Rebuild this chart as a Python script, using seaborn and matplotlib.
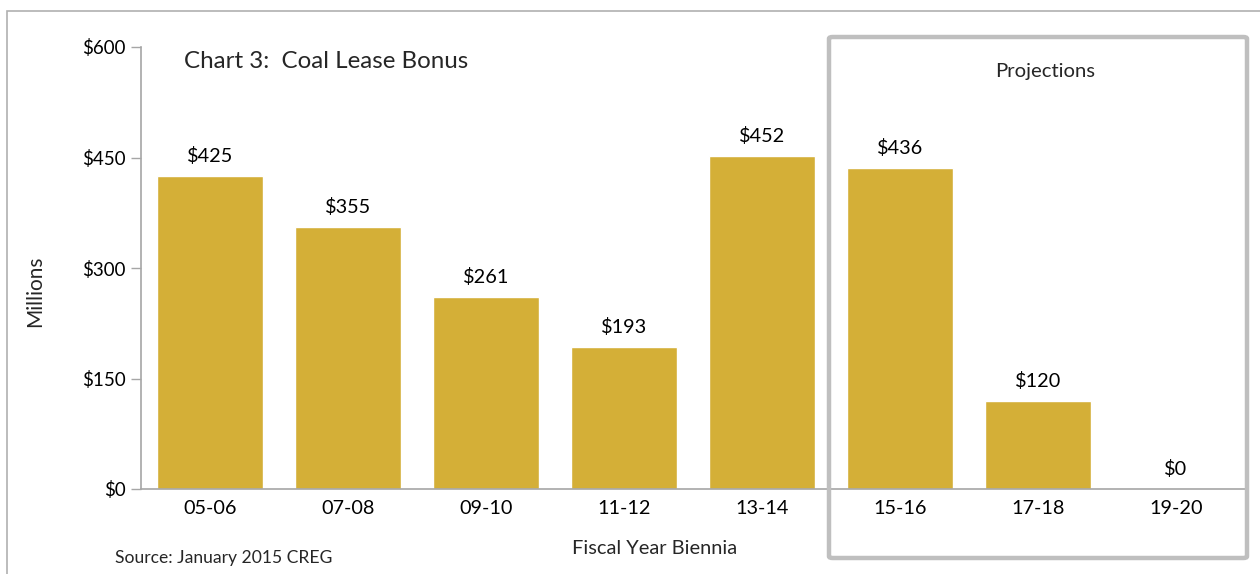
import matplotlib
matplotlib.use("Agg")
import matplotlib.pyplot as plt
import seaborn as sns
import pandas as pd
from matplotlib.patches import Rectangle, FancyBboxPatch

categories = ["05-06", "07-08", "09-10", "11-12", "13-14", "15-16", "17-18", "19-20"]
values = [425, 355, 261, 193, 452, 436, 120, 0]
y_ticks = [0, 150, 300, 450, 600]
y_tick_labels = ["$0", "$150", "$300", "$450", "$600"]

df = pd.DataFrame({"Biennium": categories, "Value": values})

sns.set_theme(style="white")
plt.rcParams["font.family"] = ["Lato", "DejaVu Sans"]

fig = plt.figure(figsize=(12.6, 5.74), dpi=100)
ax = fig.add_axes([141/1260, 1-489/574, (1245-141)/1260, (489-47)/574])

bar_color = "#D4AF37"
sns.barplot(data=df, x="Biennium", y="Value", color=bar_color, width=0.77,
            saturation=1, ax=ax)

ax.set_ylim(0, 600)
ax.set_xlim(-0.5, len(categories) - 0.5)
ax.set_yticks(y_ticks)
ax.set_yticklabels(y_tick_labels, fontsize=13.5)
ax.tick_params(axis="y", length=7, width=1, color="#a6a6a6", pad=4, left=True)
ax.tick_params(axis="x", length=0, pad=8, labelsize=14.3)
for lab in ax.get_xticklabels() + ax.get_yticklabels():
    lab.set_color("#000000")

for s in ["top", "right"]:
    ax.spines[s].set_visible(False)
for s in ["left", "bottom"]:
    ax.spines[s].set_color("#a6a6a6")
    ax.spines[s].set_linewidth(1.2)

for i, v in enumerate(values):
    ax.text(i, v + 15, f"${v}", ha="center", va="bottom", fontsize=14.3, color="#000000")

ax.set_xlabel("")
ax.set_ylabel("")

fig.text(35/1260, 1-291/574, "Millions", rotation=90, ha="center", va="center", fontsize=15)
fig.text(655/1260, 1-549/574, "Fiscal Year Biennia", ha="center", va="center", fontsize=14.4)
fig.text(115/1260, 1-558/574, "Source: January 2015 CREG", ha="left", va="center", fontsize=12.6)
fig.text(184/1260, 1-62/574, "Chart 3:  Coal Lease Bonus", ha="left", va="center", fontsize=17.4)
fig.text(1045/1260, 1-71/574, "Projections", ha="center", va="center", fontsize=14.6)

# outer frame
frame = Rectangle((7/1260, -0.2), 1.5, (1-11/574) + 0.2, transform=fig.transFigure,
                  fill=False, edgecolor="#b0b0b0", linewidth=1.2, clip_on=False)
fig.patches.append(frame)

# projections box
px0, px1 = 829/1260, 1247/1260
py0, py1 = 1-558/574, 1-37/574
box = FancyBboxPatch((px0, py0), px1-px0, py1-py0,
                     boxstyle="round,pad=0,rounding_size=0.003",
                     transform=fig.transFigure, fill=False,
                     edgecolor="#bfbfbf", linewidth=3.2, clip_on=False)
fig.patches.append(box)

fig.savefig("out.png", dpi=100)
